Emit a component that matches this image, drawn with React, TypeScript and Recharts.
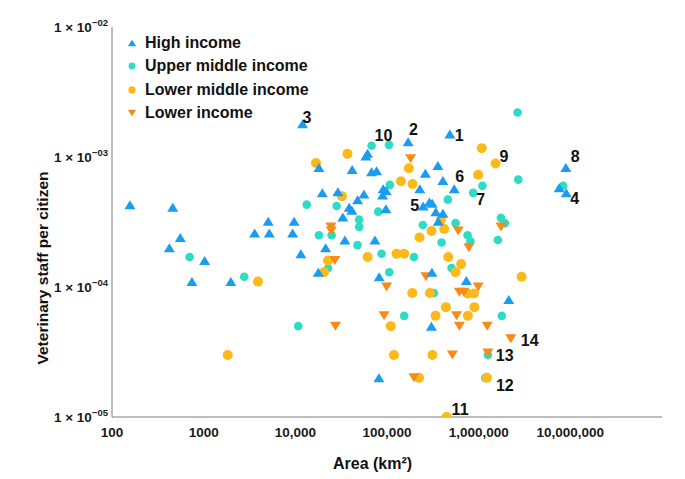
import React from "react";
import { ScatterChart, Scatter, XAxis, YAxis, Legend, Label } from "recharts";

type Pt = { area: number; staff: number };

// (area in km², staff per citizen)
const highIncome: Pt[] = [
  { area: 157, staff: 4.3e-4 }, { area: 460, staff: 4.1e-4 }, { area: 556, staff: 2.4e-4 },
  { area: 422, staff: 2.0e-4 }, { area: 1025, staff: 1.6e-4 }, { area: 745, staff: 1.1e-4 },
  { area: 1980, staff: 1.1e-4 }, { area: 5060, staff: 3.2e-4 }, { area: 3600, staff: 2.6e-4 },
  { area: 5200, staff: 2.6e-4 }, { area: 9350, staff: 2.6e-4 }, { area: 9700, staff: 3.2e-4 },
  { area: 12000, staff: 1.8e-3 }, { area: 18100, staff: 8.3e-4 }, { area: 19700, staff: 5.3e-4 },
  { area: 29100, staff: 5.4e-4 }, { area: 11500, staff: 1.8e-4 }, { area: 21400, staff: 2.0e-4 },
  { area: 17800, staff: 1.3e-4 }, { area: 34700, staff: 2.3e-4 }, { area: 73800, staff: 2.3e-4 },
  { area: 82200, staff: 1.2e-4 }, { area: 61400, staff: 1.07e-3 }, { area: 58900, staff: 1.02e-3 },
  { area: 41700, staff: 8.0e-4 }, { area: 67900, staff: 7.7e-4 }, { area: 77000, staff: 7.85e-4 },
  { area: 56000, staff: 5.2e-4 }, { area: 47800, staff: 4.7e-4 }, { area: 90900, staff: 5.7e-4 },
  { area: 98000, staff: 5.5e-4 }, { area: 89500, staff: 5.1e-4 }, { area: 38700, staff: 4.1e-4 },
  { area: 41400, staff: 3.9e-4 }, { area: 33000, staff: 3.45e-4 }, { area: 97300, staff: 4.0e-4 },
  { area: 170000, staff: 1.31e-3 }, { area: 485000, staff: 1.5e-3 }, { area: 359000, staff: 8.6e-4 },
  { area: 262000, staff: 7.5e-4 }, { area: 407000, staff: 6.6e-4 }, { area: 541000, staff: 5.7e-4 },
  { area: 228000, staff: 5.7e-4 }, { area: 248000, staff: 4.2e-4 }, { area: 290000, staff: 4.5e-4 },
  { area: 311000, staff: 4.4e-4 }, { area: 341000, staff: 3.8e-4 }, { area: 407000, staff: 3.7e-4 },
  { area: 362000, staff: 3.2e-4 }, { area: 309000, staff: 1.3e-4 }, { area: 734000, staff: 1.12e-4 },
  { area: 2130000, staff: 8.0e-5 }, { area: 305000, staff: 5.0e-5 }, { area: 81600, staff: 2.0e-5 },
  { area: 7550000, staff: 5.8e-4 }, { area: 9040000, staff: 5.3e-4 }, { area: 8930000, staff: 8.3e-4 },
];

const upperMiddle: Pt[] = [
  { area: 703, staff: 1.7e-4 }, { area: 2770, staff: 1.2e-4 }, { area: 10750, staff: 5.0e-5 },
  { area: 13300, staff: 4.3e-4 }, { area: 28200, staff: 4.2e-4 }, { area: 18100, staff: 2.5e-4 },
  { area: 24900, staff: 2.5e-4 }, { area: 22800, staff: 1.4e-4 }, { area: 67900, staff: 1.22e-3 },
  { area: 105000, staff: 1.24e-3 }, { area: 107500, staff: 6.1e-4 }, { area: 49700, staff: 3.3e-4 },
  { area: 49700, staff: 2.9e-4 }, { area: 80200, staff: 3.8e-4 }, { area: 47600, staff: 2.1e-4 },
  { area: 87300, staff: 1.8e-4 }, { area: 105700, staff: 1.3e-4 }, { area: 154000, staff: 6.0e-5 },
  { area: 1100000, staff: 6.0e-4 }, { area: 871000, staff: 5.3e-4 }, { area: 461000, staff: 4.7e-4 },
  { area: 560000, staff: 3.1e-4 }, { area: 246000, staff: 3.0e-4 }, { area: 757000, staff: 2.5e-4 },
  { area: 394000, staff: 2.2e-4 }, { area: 812000, staff: 2.25e-4 }, { area: 197000, staff: 1.7e-4 },
  { area: 506000, staff: 1.4e-4 }, { area: 325000, staff: 9.0e-5 }, { area: 1750000, staff: 3.4e-4 },
  { area: 1930000, staff: 3.1e-4 }, { area: 1620000, staff: 2.3e-4 }, { area: 1790000, staff: 6.0e-5 },
  { area: 2660000, staff: 2.2e-3 }, { area: 2700000, staff: 6.7e-4 }, { area: 8350000, staff: 6.0e-4 },
  { area: 1260000, staff: 3.0e-5 }, { area: 1180000, staff: 2.0e-5 },
];

const lowerMiddle: Pt[] = [
  { area: 3910, staff: 1.1e-4 }, { area: 1830, staff: 3.0e-5 }, { area: 16800, staff: 9.0e-4 },
  { area: 22700, staff: 1.6e-4 }, { area: 20500, staff: 1.3e-4 }, { area: 37000, staff: 1.06e-3 },
  { area: 32200, staff: 5.0e-4 }, { area: 61400, staff: 1.7e-4 }, { area: 127000, staff: 1.8e-4 },
  { area: 154000, staff: 1.8e-4 }, { area: 110000, staff: 5.0e-5 }, { area: 119000, staff: 3.0e-5 },
  { area: 224000, staff: 2.0e-5 }, { area: 142000, staff: 6.5e-4 }, { area: 190000, staff: 6.2e-4 },
  { area: 173000, staff: 8.2e-4 }, { area: 1080000, staff: 1.17e-3 }, { area: 1530000, staff: 8.9e-4 },
  { area: 988000, staff: 7.3e-4 }, { area: 387000, staff: 3.3e-4 }, { area: 420000, staff: 2.8e-4 },
  { area: 306000, staff: 2.7e-4 }, { area: 226000, staff: 2.4e-4 }, { area: 465000, staff: 1.7e-4 },
  { area: 644000, staff: 1.5e-4 }, { area: 560000, staff: 1.3e-4 }, { area: 2940000, staff: 1.2e-4 },
  { area: 189000, staff: 9.0e-5 }, { area: 294000, staff: 9.0e-5 }, { area: 757000, staff: 8.9e-5 },
  { area: 887000, staff: 8.9e-5 }, { area: 439000, staff: 7.0e-5 }, { area: 898000, staff: 7.0e-5 },
  { area: 339000, staff: 6.0e-5 }, { area: 762000, staff: 6.0e-5 }, { area: 313000, staff: 3.0e-5 },
  { area: 1230000, staff: 2.0e-5 }, { area: 447000, staff: 1.0e-5 },
];

const lowerIncome: Pt[] = [
  { area: 24400, staff: 2.9e-4 }, { area: 24700, staff: 2.7e-4 }, { area: 27000, staff: 1.6e-4 },
  { area: 27400, staff: 5.0e-5 }, { area: 181000, staff: 9.7e-4 }, { area: 99000, staff: 1.0e-4 },
  { area: 93000, staff: 6.0e-5 }, { area: 197000, staff: 2.0e-5 }, { area: 266000, staff: 1.2e-4 },
  { area: 598000, staff: 2.7e-4 }, { area: 782000, staff: 2.0e-4 }, { area: 1750000, staff: 2.9e-4 },
  { area: 988000, staff: 1.0e-4 }, { area: 616000, staff: 9.1e-5 }, { area: 690000, staff: 9.1e-5 },
  { area: 574000, staff: 6.0e-5 }, { area: 616000, staff: 5.0e-5 }, { area: 1240000, staff: 5.0e-5 },
  { area: 2240000, staff: 4.0e-5 }, { area: 517000, staff: 3.0e-5 }, { area: 1260000, staff: 3.1e-5 },
];

// numbered countries
const annotations = [
  { id: "1", area: 485000, staff: 1.5e-3 },
  { id: "2", area: 170000, staff: 1.31e-3 },
  { id: "3", area: 12000, staff: 1.8e-3 },
  { id: "4", area: 9040000, staff: 5.3e-4 },
  { id: "5", area: 248000, staff: 4.2e-4 },
  { id: "6", area: 541000, staff: 5.7e-4 },
  { id: "7", area: 871000, staff: 5.3e-4 },
  { id: "8", area: 8930000, staff: 8.3e-4 },
  { id: "9", area: 1530000, staff: 8.9e-4 },
  { id: "10", area: 67900, staff: 1.22e-3 },
  { id: "11", area: 447000, staff: 1.0e-5 },
  { id: "12", area: 1230000, staff: 2.0e-5 },
  { id: "13", area: 1260000, staff: 3.1e-5 },
  { id: "14", area: 2240000, staff: 4.0e-5 },
];

const xTicks = [100, 1000, 10000, 100000, 1000000, 10000000];
const xTickLabels = ["100", "1000", "10,000", "100,000", "1,000,000", "10,000,000"];
const yTicks = [1e-5, 1e-4, 1e-3, 1e-2];
const yTickExponents = ["−05", "−04", "−03", "−02"];

const FONT = '"Liberation Sans", Arial, Helvetica, sans-serif';
const BLUE = "#1a9cf0";
const CYAN = "#2ddcc6";
const YELLOW = "#fbb91a";
const ORANGE = "#f88a16";
const INK = "#111";

// where each number sits relative to its point
const labelPlace: Record<string, { dx: number; dy: number; anchor?: "start" | "end" }> = {
  "1": { dx: 5, dy: 7 },
  "2": { dx: 1, dy: -7 },
  "3": { dx: 0, dy: -1 },
  "4": { dx: 4, dy: 11 },
  "5": { dx: -4, dy: 5, anchor: "end" },
  "6": { dx: 1, dy: -7 },
  "7": { dx: 3, dy: 12 },
  "8": { dx: 5, dy: -6 },
  "9": { dx: 4, dy: -2 },
  "10": { dx: 3, dy: -5 },
  "11": { dx: 5, dy: -2 },
  "12": { dx: 9, dy: 13 },
  "13": { dx: 8, dy: 8 },
  "14": { dx: 10, dy: 7 },
};

const legendItems = [
  { name: "High income", color: BLUE, kind: "up" },
  { name: "Upper middle income", color: CYAN, kind: "dot" },
  { name: "Lower middle income", color: YELLOW, kind: "dot" },
  { name: "Lower income", color: ORANGE, kind: "down" },
];

const triUp = (color: string) => (p: any) =>
  <path d={`M${p.cx},${p.cy - 4.5}L${p.cx + 5.5},${p.cy + 4.5}L${p.cx - 5.5},${p.cy + 4.5}Z`} fill={color} />;
const triDown = (color: string) => (p: any) =>
  <path d={`M${p.cx - 5.5},${p.cy - 4.5}L${p.cx + 5.5},${p.cy - 4.5}L${p.cx},${p.cy + 4.5}Z`} fill={color} />;
const dot = (color: string, r: number) => (p: any) => <circle cx={p.cx} cy={p.cy} r={r} fill={color} />;

const NumberLabel = (p: any) => {
  const id = p.payload?.id;
  const place = labelPlace[id] || { dx: 4, dy: 0 };
  return (
    <text x={p.cx + place.dx} y={p.cy + place.dy} textAnchor={place.anchor || "start"}
      fontFamily={FONT} fontWeight="bold" fontSize={16} fill={INK}>
      {id}
    </text>
  );
};

const XTick = (props: any) => {
  const i = xTicks.indexOf(props.payload.value);
  return (
    <text x={props.x} y={props.y + 20} textAnchor="middle" fontFamily={FONT} fontWeight="bold" fontSize={13.5} fill="#1a1a1a">
      {xTickLabels[i]}
    </text>
  );
};

const YTick = (props: any) => {
  const v = props.payload.value;
  const i = yTicks.findIndex((t) => Math.abs(t - v) / t < 1e-6);
  return (
    <text x={props.x - 4} y={props.y + 5} textAnchor="end" fontFamily={FONT} fontWeight="bold" fontSize={13.5} fill="#1a1a1a">
      1 × 10<tspan dy={-6} fontSize={9.5}>{yTickExponents[i]}</tspan>
    </text>
  );
};

const LegendBox = () => (
  <div style={{ fontFamily: FONT, fontWeight: "bold", fontSize: 16, color: INK }}>
    {legendItems.map((it) => (
      <div key={it.name} style={{ display: "flex", alignItems: "center", height: 23.5 }}>
        <svg width={16} height={12} style={{ marginRight: 5 }}>
          {it.kind === "up" && <path d="M8,2.8L12.2,9.2L3.8,9.2Z" fill={it.color} />}
          {it.kind === "down" && <path d="M3.8,2.8L12.2,2.8L8,9.2Z" fill={it.color} />}
          {it.kind === "dot" && <circle cx={8} cy={6} r={it.color === CYAN ? 3.4 : 3.7} fill={it.color} />}
        </svg>
        <span>{it.name}</span>
      </div>
    ))}
  </div>
);

export default function App() {
  return (
    <div style={{ position: "absolute", left: 0, top: 0, background: "#fff" }}>
      <ScatterChart width={685} height={479} margin={{ top: 27, right: 23, left: 0, bottom: 0 }}>
        <XAxis
          type="number"
          dataKey="area"
          scale="log"
          domain={[100, 100000000]}
          ticks={xTicks}
          tick={<XTick />}
          tickLine={false}
          tickSize={0}
          tickMargin={0}
          height={62}
          allowDataOverflow
          axisLine={{ stroke: "#7d7d7d", strokeWidth: 1 }}
        >
          <Label content={() => (
            <text x={333} y={469} fontFamily={FONT} fontWeight="bold" fontSize={16} fill={INK}>
              Area (km²)
            </text>
          )} />
        </XAxis>
        <YAxis
          type="number"
          dataKey="staff"
          scale="log"
          domain={[1e-5, 1e-2]}
          ticks={yTicks}
          tick={<YTick />}
          tickLine={false}
          tickSize={0}
          tickMargin={0}
          width={112}
          allowDataOverflow
          axisLine={{ stroke: "#7d7d7d", strokeWidth: 1 }}
        >
          <Label content={() => (
            <text x={48} y={268} transform="rotate(-90, 48, 268)" textAnchor="middle"
              fontFamily={FONT} fontWeight="bold" fontSize={15.5} fill={INK}>
              Veterinary staff per citizen
            </text>
          )} />
        </YAxis>
        <Legend
          layout="vertical"
          align="center"
          verticalAlign="middle"
          content={<LegendBox />}
          wrapperStyle={{ left: 124, top: 31, width: 260 }}
        />
        <Scatter name="Upper middle income" data={upperMiddle} shape={dot(CYAN, 4.3)} isAnimationActive={false} />
        <Scatter name="Lower middle income" data={lowerMiddle} shape={dot(YELLOW, 5)} isAnimationActive={false} />
        <Scatter name="Lower income" data={lowerIncome} shape={triDown(ORANGE)} isAnimationActive={false} />
        <Scatter name="High income" data={highIncome} shape={triUp(BLUE)} isAnimationActive={false} />
        <Scatter name="labels" data={annotations} shape={NumberLabel} legendType="none" isAnimationActive={false} />
      </ScatterChart>
    </div>
  );
}
